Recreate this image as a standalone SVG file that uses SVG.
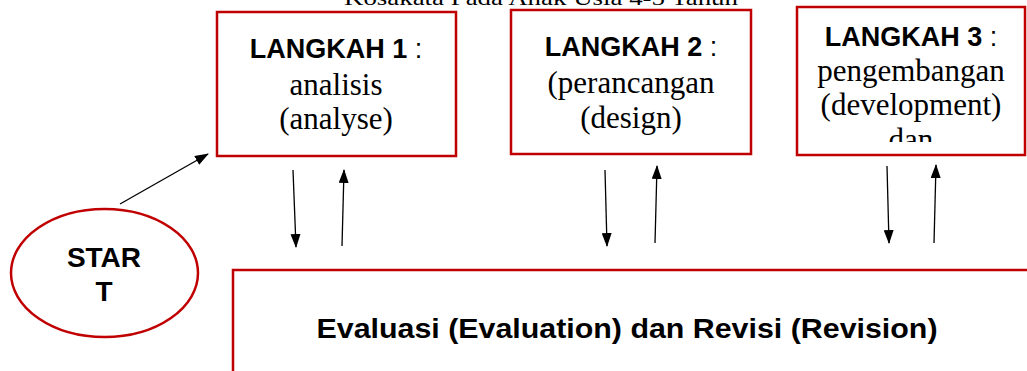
<svg xmlns="http://www.w3.org/2000/svg" width="1027" height="371" viewBox="0 0 1027 371">
<style>
.box{fill:#fff;stroke:#c00000;stroke-width:2.5}
.hd{font-family:"Liberation Sans",Arial,sans-serif;font-size:27px;fill:#000}
.hd .b{font-weight:bold}
.st{font-family:"Liberation Sans",Arial,sans-serif;font-size:28px;font-weight:bold;fill:#000}
.tm{font-family:"Liberation Serif","Times New Roman",serif;font-size:31px;fill:#000}
.ev{font-family:"Liberation Sans",Arial,sans-serif;font-weight:bold;font-size:28px;fill:#000}
.con line{stroke:#000;stroke-width:1.3}
</style>
<defs>
<marker id="ah" viewBox="0 0 14 10" refX="13" refY="5" markerWidth="14" markerHeight="10" markerUnits="userSpaceOnUse" orient="auto">
<path d="M0,0 L14,5 L0,10 z" fill="#000"/>
</marker>
<clipPath id="c3"><rect x="798" y="8" width="226" height="134"/></clipPath>
</defs>
<text x="541" y="5" text-anchor="middle" font-family="Liberation Serif, serif" font-size="21" textLength="394" lengthAdjust="spacingAndGlyphs">Kosakata Pada Anak Usia 4-5 Tahun</text>
<g id="step1">
<rect class="box" x="217" y="12" width="239" height="144"/>
<text class="hd" x="336" y="58" text-anchor="middle"><tspan class="b">LANGKAH 1</tspan> :</text>
<text class="tm" x="336" y="95" text-anchor="middle">analisis</text>
<text class="tm" x="336" y="129" text-anchor="middle">(analyse)</text>
</g>
<g id="step2">
<rect class="box" x="511" y="10" width="240" height="144"/>
<text class="hd" x="631" y="56" text-anchor="middle"><tspan class="b">LANGKAH 2</tspan> :</text>
<text class="tm" x="631" y="93" text-anchor="middle">(perancangan</text>
<text class="tm" x="631" y="128" text-anchor="middle">(design)</text>
</g>
<g id="step3">
<rect class="box" x="797" y="7" width="228" height="148"/>
<g clip-path="url(#c3)">
<text class="hd" x="911" y="46" text-anchor="middle"><tspan class="b">LANGKAH 3</tspan> :</text>
<text class="tm" x="911" y="81" text-anchor="middle">pengembangan</text>
<text class="tm" x="911" y="115" text-anchor="middle">(development)</text>
<text class="tm" x="911" y="150" text-anchor="middle">dan</text>
</g>
</g>
<g id="start">
<ellipse class="box" cx="104.5" cy="273" rx="93.5" ry="64"/>
<text class="st" x="104" y="267" text-anchor="middle">STAR</text>
<text class="st" x="104" y="301" text-anchor="middle">T</text>
</g>
<g id="eval">
<path d="M233,371 V270 H1030" fill="none" stroke="#c00000" stroke-width="2.5"/>
<text class="ev" x="627" y="338" text-anchor="middle" textLength="621" lengthAdjust="spacingAndGlyphs">Evaluasi (Evaluation) dan Revisi (Revision)</text>
</g>
<g class="con" id="connectors">
<line x1="120" y1="204" x2="208" y2="154" marker-end="url(#ah)"/>
<line x1="293" y1="170" x2="296" y2="247" marker-end="url(#ah)"/>
<line x1="342" y1="246" x2="344" y2="170" marker-end="url(#ah)"/>
<line x1="605" y1="170" x2="607" y2="246" marker-end="url(#ah)"/>
<line x1="655" y1="243" x2="657" y2="166" marker-end="url(#ah)"/>
<line x1="887" y1="166" x2="889" y2="243" marker-end="url(#ah)"/>
<line x1="934" y1="243" x2="936" y2="165" marker-end="url(#ah)"/>
</g>
</svg>
